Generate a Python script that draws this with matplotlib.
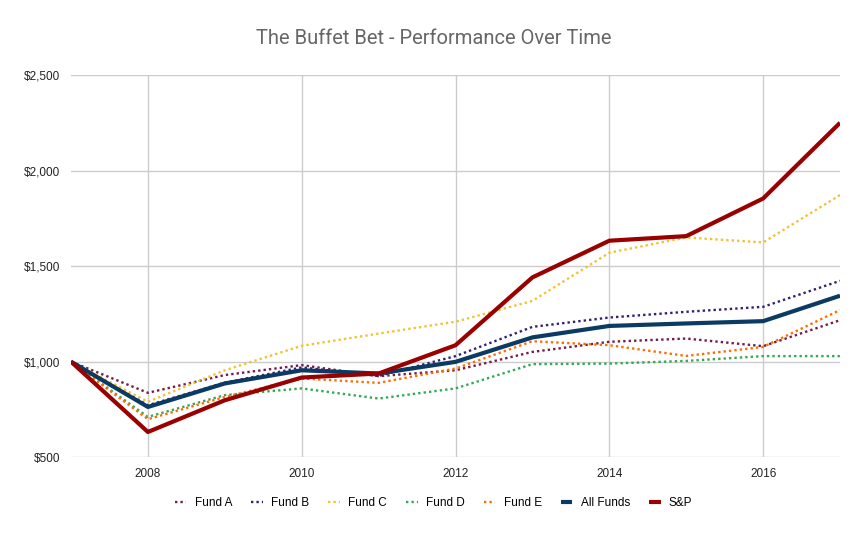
import matplotlib.pyplot as plt
from matplotlib.ticker import FuncFormatter

years = list(range(2007, 2018))
fund_a = [1000, 837, 930, 982, 924, 955, 1051, 1104, 1121, 1081, 1217]
fund_b = [1000, 772, 890, 970, 925, 1029, 1182, 1231, 1261, 1287, 1423]
fund_c = [1000, 790, 955, 1083, 1147, 1209, 1318, 1570, 1650, 1624, 1872]
fund_d = [1000, 711, 825, 860, 807, 860, 987, 990, 1004, 1029, 1029]
fund_e = [1000, 699, 815, 912, 889, 964, 1107, 1086, 1030, 1077, 1270]
all_funds = [1000, 763, 886, 955, 938, 999, 1127, 1187, 1200, 1212, 1345]
snp = [1000, 632, 798, 917, 938, 1086, 1441, 1633, 1657, 1854, 2250]

dotted = [("Fund A", fund_a, "#741b47"),
          ("Fund B", fund_b, "#351c75"),
          ("Fund C", fund_c, "#f1c232"),
          ("Fund D", fund_d, "#34a853"),
          ("Fund E", fund_e, "#ff6d01")]

fig = plt.figure(figsize=(8.67, 5.36), dpi=100)
ax = fig.add_axes([0.0819, 0.147, 0.887, 0.713])

for name, vals, col in dotted:
    ax.plot(years, vals, color=col, lw=1.7, linestyle=(0, (1, 1.3)), label=name)
ax.plot(years, all_funds, color="#0b3a63", lw=3, label="All Funds", solid_capstyle="butt")
ax.plot(years, snp, color="#990000", lw=3, label="S&P", solid_capstyle="butt")

ax.set_xlim(2007, 2017)
ax.set_ylim(500, 2500)
ax.set_xticks([2008, 2010, 2012, 2014, 2016])
ax.set_yticks([500, 1000, 1500, 2000, 2500])
ax.yaxis.set_major_formatter(FuncFormatter(lambda v, p: "${:,.0f}".format(v)))
ax.grid(True, color="#cccccc", lw=1)
ax.set_axisbelow(True)
for s in ax.spines.values():
    s.set_visible(False)
ax.tick_params(length=0, labelsize=8.5, labelcolor="#222222", pad=8)
for lab in ax.get_xticklabels() + ax.get_yticklabels():
    lab.set_fontfamily("Liberation Sans")

fig.suptitle("The Buffet Bet - Performance Over Time", y=0.945, fontsize=14.5,
             color="#666666", fontfamily="Roboto")

fig.legend(loc="center", bbox_to_anchor=(0.5, 0.062), ncol=7, frameon=False,
           handlelength=1.0, columnspacing=1.6, handletextpad=0.7,
           prop={"family": "Liberation Sans", "size": 8.5})

fig.savefig("out.png", dpi=100)
